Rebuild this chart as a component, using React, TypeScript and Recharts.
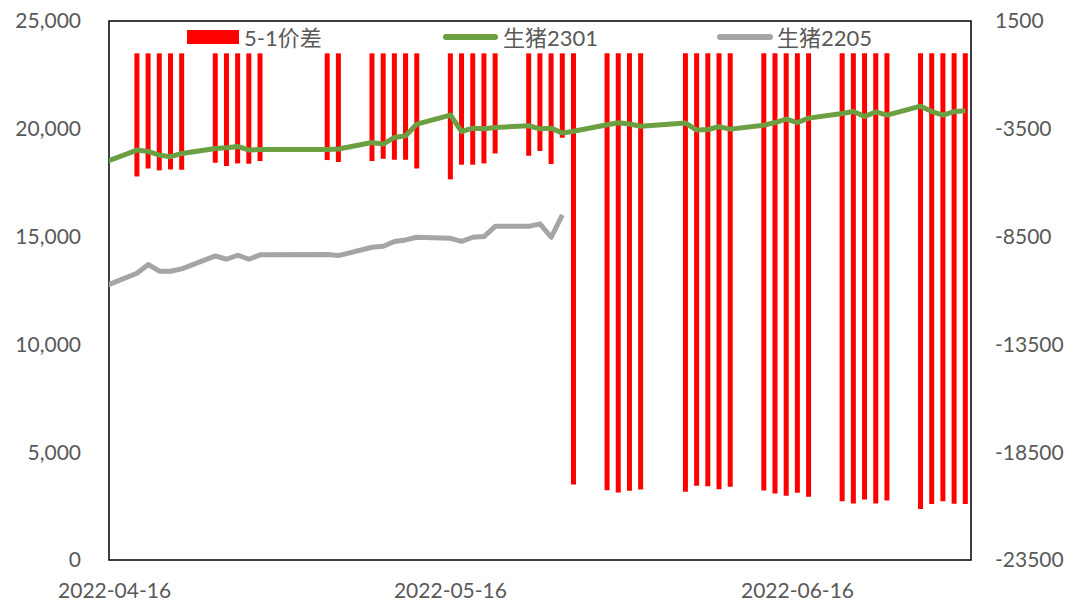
import React from 'react';
import { ComposedChart, Bar, Line, XAxis, YAxis, ReferenceArea, Legend } from 'recharts';

// trading days (04-15 sits just left of the axis start, the lines get clipped there)
const tradeDates = [
  '2022-04-15',
  '2022-04-18', '2022-04-19', '2022-04-20', '2022-04-21', '2022-04-22',
  '2022-04-25', '2022-04-26', '2022-04-27', '2022-04-28', '2022-04-29',
  '2022-05-05', '2022-05-06',
  '2022-05-09', '2022-05-10', '2022-05-11', '2022-05-12', '2022-05-13',
  '2022-05-16', '2022-05-17', '2022-05-18', '2022-05-19', '2022-05-20',
  '2022-05-23', '2022-05-24', '2022-05-25', '2022-05-26', '2022-05-27',
  '2022-05-30', '2022-05-31', '2022-06-01', '2022-06-02',
  '2022-06-06', '2022-06-07', '2022-06-08', '2022-06-09', '2022-06-10',
  '2022-06-13', '2022-06-14', '2022-06-15', '2022-06-16', '2022-06-17',
  '2022-06-20', '2022-06-21', '2022-06-22', '2022-06-23', '2022-06-24',
  '2022-06-27', '2022-06-28', '2022-06-29', '2022-06-30', '2022-07-01',
];

const spread51 = [
  null,
  -5710, -5340, -5430, -5385, -5400,
  -5075, -5225, -5105, -5120, -4995,
  -4950, -5040,
  -4995, -4890, -4935, -4935, -5340,
  -5845, -5165, -5165, -5105, -4645,
  -4750, -4530, -5135, -3915, -20000,
  -20260, -20365, -20290, -20225,
  -20340, -20060, -20075, -20215, -20105,
  -20275, -20410, -20525, -20385, -20570,
  -20780, -20875, -20690, -20875, -20735,
  -21140, -20905, -20770, -20895, -20905,
];

const hog2301 = [
  18430,
  19015, 18950, 18780, 18705, 18855,
  19090, 19120, 19180, 19015, 19040,
  19040, 19060,
  19365, 19290, 19600, 19675, 20220,
  20635, 19875, 20030, 20000, 20060,
  20140, 20000, 20030, 19800, 19885,
  20185, 20280, 20220, 20115,
  20265, 19940, 19970, 20095, 19985,
  20170, 20290, 20450, 20290, 20495,
  20710, 20800, 20570, 20785, 20635,
  21050, 20800, 20635, 20800, 20835,
];

const hog2205 = [
  12670,
  13300, 13705, 13395, 13395, 13505,
  14105, 13950, 14135, 13950, 14155,
  14165, 14120,
  14505, 14550, 14770, 14845, 14970,
  14920, 14780, 14970, 15000, 15475,
  15475, 15590, 14970, 16005, null,
  null, null, null, null,
  null, null, null, null, null,
  null, null, null, null, null,
  null, null, null, null, null,
  null, null, null, null, null,
];

const axisStart = '2022-04-16';
const axisEnd = '2022-07-01';
const dateTicks = ['2022-04-16', '2022-05-16', '2022-06-16'];
const leftTicks = [0, 5000, 10000, 15000, 20000, 25000];
const rightTicks = [-23500, -18500, -13500, -8500, -3500, 1500];

const DAY = 86400000;
const dayOf = (d: string) => Math.round((Date.parse(d) - Date.parse(axisStart)) / DAY);
const dateOf = (n: number) => new Date(Date.parse(axisStart) + n * DAY).toISOString().slice(0, 10);

const data = tradeDates.map((date, i) => ({
  day: dayOf(date),
  date,
  spread: spread51[i],
  hog2301: hog2301[i],
  hog2205: hog2205[i],
}));

const FONT = "Lato, 'Noto Sans CJK SC', sans-serif";
const TEXT = '#595959';
const RED = '#FF0000';
const GREEN = '#6A9F42';
const GRAY = '#A5A5A5';

const tickStyle = { fill: TEXT, fontSize: 21, fontFamily: FONT };

const ChartLegend = () => (
  <div style={{ position: 'relative', width: 1066, height: 0 }}>
    <svg width={1066} height={60} style={{ position: 'absolute', left: 0, top: 0, overflow: 'visible' }}>
      <g fontFamily={FONT} fontSize={22} fill={TEXT}>
        <rect x={187} y={30} width={52} height={14} fill={RED} />
        <text x={244} y={37} dominantBaseline="central">5-1价差</text>
        <line x1={446} y1={37} x2={495} y2={37} stroke={GREEN} strokeWidth={6} strokeLinecap="round" />
        <text x={503} y={37} dominantBaseline="central">生猪2301</text>
        <line x1={720} y1={37} x2={770} y2={37} stroke={GRAY} strokeWidth={6} strokeLinecap="round" />
        <text x={777} y={37} dominantBaseline="central">生猪2205</text>
      </g>
    </svg>
  </div>
);

export default function App() {
  const lastDay = dayOf(axisEnd);
  return (
    <div style={{ position: 'absolute', left: 0, top: 0, fontFamily: FONT }}>
      <ComposedChart width={1066} height={603} data={data} margin={{ top: 21, right: 0, bottom: 0, left: 0 }}>
        <XAxis
          dataKey="day"
          type="number"
          domain={[-0.5, lastDay + 0.5]}
          allowDataOverflow
          ticks={dateTicks.map(dayOf)}
          tickFormatter={dateOf}
          interval={0}
          axisLine={false}
          tickLine={false}
          tickSize={0}
          tickMargin={23}
          height={43}
          tick={tickStyle}
        />
        <YAxis
          yAxisId="left"
          domain={[0, 25000]}
          ticks={leftTicks}
          tickFormatter={(v: number) => v.toLocaleString('en-US')}
          axisLine={false}
          tickLine={false}
          tickSize={0}
          tickMargin={28}
          width={109}
          tick={tickStyle}
        />
        <YAxis
          yAxisId="right"
          orientation="right"
          domain={[-23500, 1500]}
          ticks={rightTicks}
          axisLine={false}
          tickLine={false}
          tickSize={0}
          tickMargin={24}
          width={95}
          tick={tickStyle}
        />
        <Legend content={ChartLegend} wrapperStyle={{ top: 0, left: 0, width: 1066, height: 0 }} />
        <Bar yAxisId="right" dataKey="spread" name="5-1价差" fill={RED} barSize={5} isAnimationActive={false} />
        <Line
          yAxisId="left"
          dataKey="hog2301"
          name="生猪2301"
          stroke={GREEN}
          strokeWidth={5}
          strokeLinejoin="round"
          dot={false}
          activeDot={false}
          isAnimationActive={false}
        />
        <Line
          yAxisId="left"
          dataKey="hog2205"
          name="生猪2205"
          stroke={GRAY}
          strokeWidth={5}
          strokeLinejoin="round"
          dot={false}
          activeDot={false}
          isAnimationActive={false}
        />
        <ReferenceArea
          yAxisId="left"
          x1={-0.5}
          x2={lastDay + 0.5}
          y1={0}
          y2={25000}
          fill="none"
          stroke="#000"
          strokeWidth={1.5}
        />
      </ComposedChart>
    </div>
  );
}
